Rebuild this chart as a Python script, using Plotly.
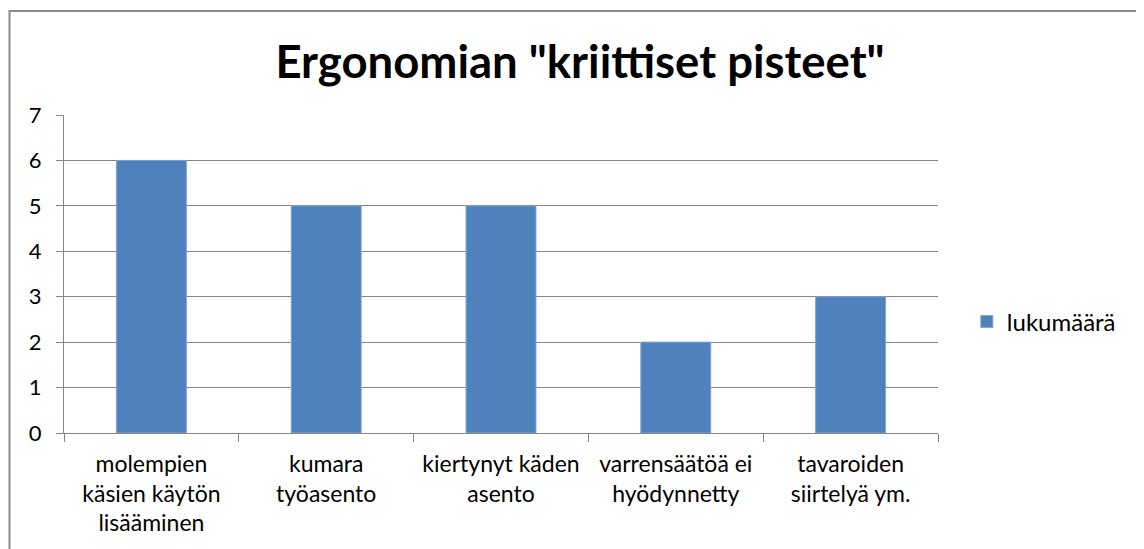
import plotly.graph_objects as go

categories = [
    "molempien<br>käsien käytön<br>lisääminen",
    "kumara<br>työasento",
    "kiertynyt käden<br>asento",
    "varrensäätöä ei<br>hyödynnetty",
    "tavaroiden<br>siirtelyä ym.",
]
values = [6, 5, 5, 2, 3]
series_name = "lukumäärä"
title_text = 'Ergonomian "kriittiset pisteet"'

FONT = "Lato"
AXIS_COLOR = "#868686"
GRID_COLOR = "#868686"

# page body has an 8px margin; shift everything up/left by 8
OFF = 8

fig = go.Figure()
fig.add_trace(go.Bar(
    x=categories, y=values, name=series_name,
    marker=dict(color="#4F81BD", line=dict(color="#7FA3D0", width=1)),
    showlegend=True,
))

fig.update_layout(
    width=1144, height=549,
    margin=dict(l=64 - OFF, r=1144 - (938 - OFF), t=115 - OFF, b=549 - (433 - OFF)),
    paper_bgcolor="white", plot_bgcolor="white",
    bargap=0.6,
    font=dict(family=FONT, size=22, color="#000000"),
    title=dict(text=f"<b>{title_text}</b>", x=0.5, xanchor="center",
               y=1 - (62 - OFF) / 549, yanchor="middle",
               font=dict(family=FONT, size=45.5, color="#000000")),
    showlegend=True,
    legend=dict(x=1.033, y=0.349, xanchor="left", yanchor="middle",
                font=dict(family=FONT, size=24), bgcolor="rgba(0,0,0,0)"),
    xaxis=dict(
        showline=True, linecolor=AXIS_COLOR, linewidth=1,
        ticks="outside", tickson="boundaries", ticklen=8, tickcolor=AXIS_COLOR,
        showgrid=False, tickfont=dict(family=FONT, size=23),
        range=[-0.5, 4.5], ticklabelstandoff=10,
    ),
    yaxis=dict(
        range=[0, 7], dtick=1, showline=True, linecolor=AXIS_COLOR, linewidth=1,
        ticks="outside", ticklen=7, tickcolor=AXIS_COLOR,
        showgrid=True, gridcolor=GRID_COLOR, gridwidth=1,
        zeroline=False, tickfont=dict(family=FONT, size=22),
        ticklabelstandoff=10,
    ),
    shapes=[dict(
        type="rect", xref="paper", yref="paper",
        x0=(9.5 - 64) / 874, x1=(1141 - 64) / 874,
        y0=-0.6, y1=(433 - 11) / 318,
        line=dict(color="#898989", width=2), fillcolor="rgba(0,0,0,0)",
        layer="below",
    )],
)

fig.write_html("out.html")
